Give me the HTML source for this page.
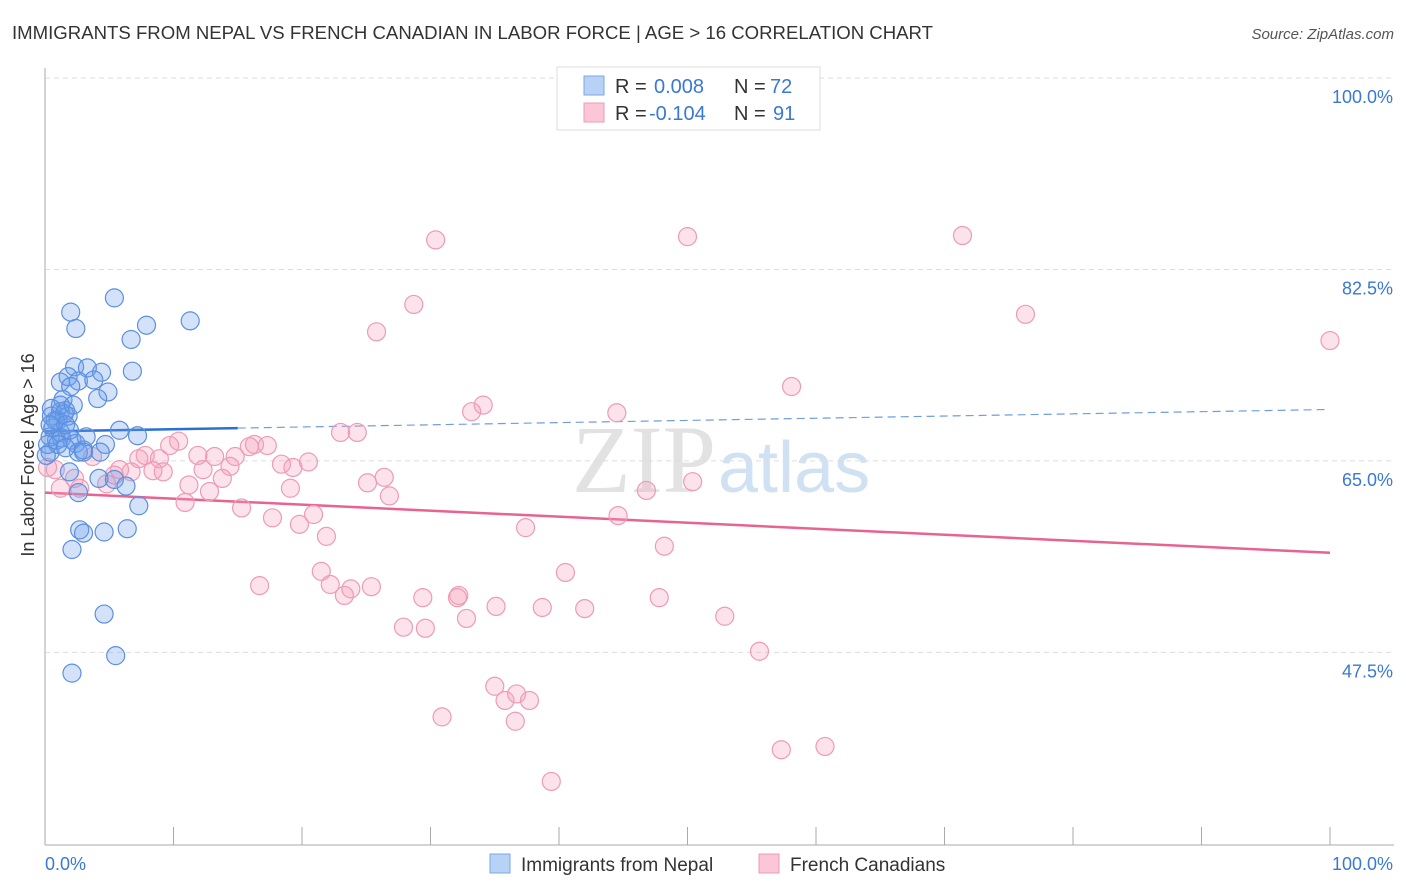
<!DOCTYPE html>
<html><head><meta charset="utf-8">
<style>
body{margin:0;background:#fff;font-family:"Liberation Sans",sans-serif;}
#wrap{position:relative;width:1406px;height:892px;overflow:hidden;}
</style></head>
<body>
<div id="wrap">
<svg id="chart" width="1406" height="892">
  <text x="12" y="39" font-size="18" fill="#333" textLength="921" lengthAdjust="spacingAndGlyphs">IMMIGRANTS FROM NEPAL VS FRENCH CANADIAN IN LABOR FORCE | AGE &gt; 16 CORRELATION CHART</text>
  <text x="1394" y="39" font-size="15" fill="#555" font-style="italic" text-anchor="end">Source: ZipAtlas.com</text>
  <text x="716" y="492" font-size="96" fill="#e2e2e2" text-anchor="end" font-family="Liberation Serif,serif">ZIP</text>
  <text x="718" y="492" font-size="72" fill="#d0e1f4">atlas</text>
  <g id="grid"></g>
  <g id="axes"></g>
  <g id="trend"></g>
  <g id="pts"></g>
  <text transform="translate(34,455) rotate(-90)" font-size="18" fill="#333" text-anchor="middle">In Labor Force | Age &gt; 16</text>
  <g>
    <rect x="557" y="67" width="263" height="63" fill="#fff" stroke="#ddd"/>
    <rect x="584" y="76" width="20" height="19" fill="#b8d2f5" stroke="#7aa8e8"/>
    <rect x="584" y="103" width="20" height="19" fill="#fbc7d6" stroke="#f09ab4"/>
    <text x="615" y="93" font-size="20" fill="#333">R = </text><text x="654" y="93" font-size="20" fill="#3a78d4">0.008</text>
    <text x="734" y="93" font-size="20" fill="#333">N = </text><text x="770" y="93" font-size="20" fill="#3a78d4">72</text>
    <text x="615" y="120" font-size="20" fill="#333">R = </text><text x="649" y="120" font-size="20" fill="#3a78d4">-0.104</text>
    <text x="734" y="120" font-size="20" fill="#333">N = </text><text x="773" y="120" font-size="20" fill="#3a78d4">91</text>
  </g>
  <g>
    <rect x="490" y="854" width="20" height="19" fill="#b8d2f5" stroke="#7aa8e8"/>
    <text x="521" y="871" font-size="19" fill="#333">Immigrants from Nepal</text>
    <rect x="759" y="854" width="20" height="19" fill="#fbc7d6" stroke="#f09ab4"/>
    <text x="790" y="871" font-size="19" fill="#333">French Canadians</text>
  </g>
</svg>
</div>
<script>
const yTicks=[100,82.5,65,47.5];
const yTickLabels=["100.0%","82.5%","65.0%","47.5%"];
const xTicks=[0,10,20,30,40,50,60,70,80,90,100];
const nepalX=[5.4,2.0,2.4,6.7,7.9,11.3,2.3,3.3,4.4,6.8,1.2,1.8,2.6,3.8,2.0,4.9,4.1,1.4,0.5,1.2,1.6,0.5,1.0,1.5,1.8,0.6,1.2,0.4,0.9,1.3,2.1,2.4,3.2,0.4,2.6,3.0,5.8,7.2,4.7,0.2,1.9,4.2,5.4,6.3,2.6,7.3,2.7,3.0,4.6,6.4,2.1,4.6,5.5,2.1,0.8,1.6,0.4,1.0,1.6,1.9,3.0,4.3,0.1,1.2,2.2];
const nepalY=[79.9,78.6,77.1,76.1,77.4,77.8,73.6,73.5,73.1,73.2,72.2,72.7,72.3,72.4,71.8,71.3,70.7,70.6,69.8,69.5,69.6,69.1,68.7,69.3,69.1,68.0,67.6,67.2,66.9,67.1,66.9,66.6,67.2,65.8,65.8,66.0,67.8,67.3,66.5,66.5,64.0,63.4,63.3,62.7,62.1,60.9,58.7,58.4,58.5,58.8,56.9,51.0,47.2,45.6,68.7,68.3,68.3,66.5,66.2,67.8,65.8,65.8,65.5,70.1,70.1];
const frenchX=[30.4,50.0,71.4,28.7,25.8,76.3,100,58.1,34.1,33.2,44.5,23.0,24.3,10.4,9.7,16.3,17.3,15.9,13.2,14.8,11.9,7.8,3.7,7.3,8.9,18.4,20.5,19.3,14.4,12.3,0.8,0.2,6.7,9.2,8.4,5.8,5.4,2.3,13.8,26.4,25.1,4.8,11.2,19.1,12.8,1.2,2.7,26.8,46.8,50.4,10.9,15.3,20.9,17.7,19.8,44.6,37.4,21.9,48.2,40.5,21.5,16.7,22.2,23.8,25.4,23.3,29.4,32.2,32.1,35.1,38.7,42.0,47.8,32.8,52.9,27.9,29.6,55.6,35.0,36.7,35.8,37.7,30.9,36.6,57.3,60.7,39.4];
const frenchY=[85.2,85.5,85.6,79.3,76.8,78.4,76.0,71.8,70.1,69.5,69.4,67.6,67.6,66.8,66.4,66.5,66.4,66.3,65.4,65.4,65.5,65.5,65.4,65.2,65.2,64.7,64.9,64.4,64.5,64.2,64.2,64.4,64.0,64.0,64.1,64.2,63.7,63.4,63.4,63.5,63.0,62.9,62.8,62.5,62.2,62.5,62.5,61.8,62.3,63.1,61.2,60.7,60.1,59.8,59.2,60.0,58.9,58.1,57.2,54.8,54.9,53.6,53.7,53.3,53.5,52.7,52.5,52.7,52.5,51.7,51.6,51.5,52.5,50.6,50.8,49.8,49.7,47.6,44.4,43.7,43.1,43.1,41.6,41.2,38.6,38.9,35.7];
const nepalTrend=[67.7,69.7];
const frenchTrend=[62.1,56.6];
const nepalSolidEnd=15;

const NS="http://www.w3.org/2000/svg";
function xs(v){return 45+v*12.85;}
function ys(v){return 78+(100-v)*10.94;}
function mk(tag,attrs,parent){const e=document.createElementNS(NS,tag);for(const k in attrs)e.setAttribute(k,attrs[k]);document.getElementById(parent).appendChild(e);return e;}

yTicks.forEach((t,i)=>{
  const l=mk('line',{x1:45,x2:1394,y1:ys(t),y2:ys(t),stroke:'#ddd','stroke-dasharray':'5,4'},'grid');
  
  
  const tx=mk('text',{x:1393,y:ys(t)+25,'font-size':18,fill:'#3a78d4','text-anchor':'end'},'grid');
  tx.textContent=yTickLabels[i];
  
  
});
const ax=mk('line',{x1:45,x2:45,y1:68,y2:845,stroke:'#aaa'},'axes');


const bx=mk('line',{x1:45,x2:1394,y1:845,y2:845,stroke:'#aaa'},'axes');


xTicks.forEach(t=>{
  const l=mk('line',{x1:xs(t),x2:xs(t),y1:827,y2:845,stroke:'#aaa'},'axes');
  
  
});
const x0=mk('text',{x:45,y:870,'font-size':18,fill:'#3a78d4'},'axes');x0.textContent='0.0%';


const x1=mk('text',{x:1393,y:870,'font-size':18,fill:'#3a78d4','text-anchor':'end'},'axes');x1.textContent='100.0%';



frenchX.forEach((v,i)=>{
  const c=mk('circle',{cx:xs(v),cy:ys(frenchY[i]),r:9,fill:'rgba(244,160,185,0.3)',stroke:'#ee9bb5','stroke-width':1.2},'pts');
  
  
});
nepalX.forEach((v,i)=>{
  const c=mk('circle',{cx:xs(v),cy:ys(nepalY[i]),r:9,fill:'rgba(110,160,235,0.3)',stroke:'#5b8fe0','stroke-width':1.2},'pts');
  
  
});
function ty(tr,x){return tr[0]+(tr[1]-tr[0])*x/100;}
const t1=mk('line',{x1:xs(0),y1:ys(ty(nepalTrend,0)),x2:xs(nepalSolidEnd),y2:ys(ty(nepalTrend,nepalSolidEnd)),stroke:'#2a6fd6','stroke-width':2.5},'trend');


const t2=mk('line',{x1:xs(nepalSolidEnd),y1:ys(ty(nepalTrend,nepalSolidEnd)),x2:xs(99.6),y2:ys(ty(nepalTrend,99.6)),stroke:'#6f9ee0','stroke-width':1.2,'stroke-dasharray':'8,5'},'trend');


const t3=mk('line',{x1:xs(0),y1:ys(frenchTrend[0]),x2:xs(100),y2:ys(frenchTrend[1]),stroke:'#e8638f','stroke-width':2.5},'trend');


</script>
</body></html>
